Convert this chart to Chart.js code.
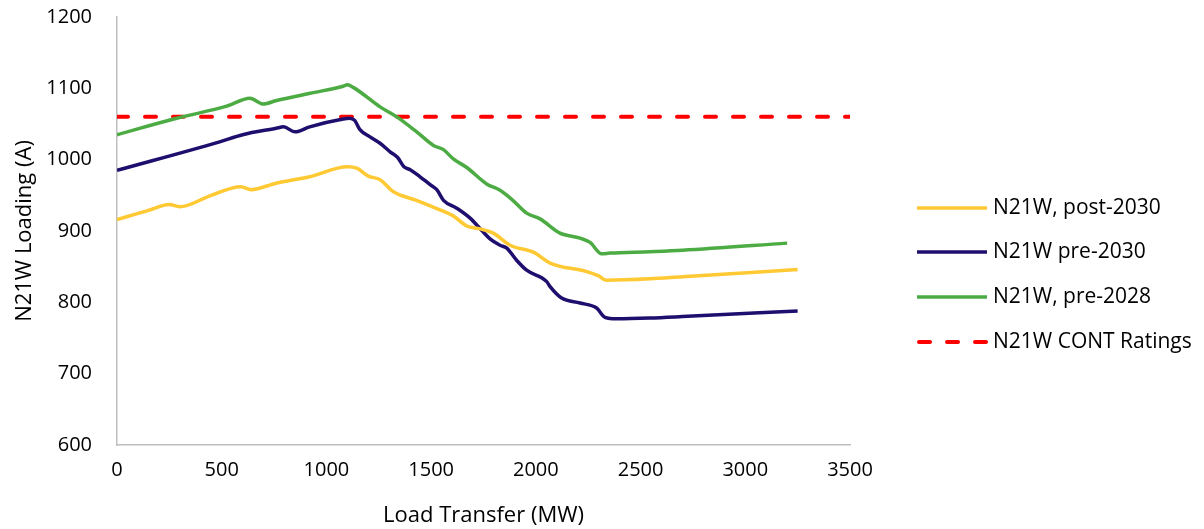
<!DOCTYPE html>
<html>
<head>
<meta charset="utf-8">
<script src="https://cdn.jsdelivr.net/npm/chart.js@4"></script>
<style>
  html, body { margin: 0; padding: 0; background: #fff; }
  #wrap { width: 1204px; height: 529px; position: relative; }
</style>
</head>
<body>
<div id="wrap"><canvas id="c" width="1204" height="529"></canvas></div>
<script>
// ---- data ----
const xTicks = [0, 500, 1000, 1500, 2000, 2500, 3000, 3500];
const yTicks = [600, 700, 800, 900, 1000, 1100, 1200];

const post2030X = [0, 150, 250, 300, 450, 590, 640, 760, 920, 1100, 1145, 1200, 1256, 1320, 1430, 1530, 1606, 1670, 1733, 1797, 1877, 1990, 2068, 2243, 2300, 2335, 2545, 2700, 3250];
const post2030Y = [916, 929, 937, 934, 950, 962, 958, 967, 976, 990, 988, 977, 972, 955, 943, 931, 921, 907, 903, 897, 880, 870, 855, 843, 837, 831, 833, 836, 846];

const pre2030X = [0, 490, 600, 760, 795, 850, 920, 1080, 1110, 1135, 1160, 1208, 1256, 1304, 1340, 1370, 1400, 1447, 1495, 1527, 1559, 1622, 1686, 1741, 1781, 1829, 1861, 1908, 1956, 2052, 2068, 2123, 2211, 2290, 2330, 2386, 2545, 2700, 3250];
const pre2030Y = [985, 1025, 1035, 1044, 1046, 1039, 1046, 1057, 1058, 1055, 1042, 1032, 1023, 1011, 1003, 990, 986, 976, 965, 958, 943, 932, 918, 901, 889, 880, 876, 859, 845, 829, 822, 806, 799, 792, 779, 777, 778, 780, 788];

const pre2028X = [0, 285, 524, 635, 699, 762, 922, 1081, 1100, 1130, 1256, 1336, 1431, 1511, 1559, 1606, 1670, 1765, 1829, 1890, 1956, 2020, 2115, 2211, 2259, 2314, 2354, 2545, 2700, 3200];
const pre2028Y = [1035, 1058, 1075, 1086, 1078, 1083, 1093, 1103, 1105, 1101, 1074, 1060, 1039, 1020, 1014, 1001, 989, 966, 957, 943, 925, 917, 897, 890, 884, 868, 869, 871, 873, 883];

const ratingX = [0, 3500];
const ratingY = [1060, 1060];

const labels = ['N21W, post-2030', 'N21W pre-2030', 'N21W, pre-2028', 'N21W CONT Ratings'];
// ---------------

function pts(xs, ys) { return xs.map((x, i) => ({ x: x, y: ys[i] })); }

const FONT = "'Open Sans', 'Noto Sans', sans-serif";

const legendPlugin = {
  id: 'customLegend',
  afterDraw(chart) {
    const ctx = chart.ctx;
    const rows = [208, 252, 297, 342];
    ctx.save();
    chart.data.datasets.forEach((ds, i) => {
      const y = rows[i];
      ctx.beginPath();
      ctx.strokeStyle = ds.borderColor;
      ctx.lineWidth = ds.borderWidth;
      ctx.lineCap = ds.borderDash ? 'round' : 'butt';
      ctx.setLineDash(ds.borderDash || []);
      ctx.moveTo(ds.borderDash ? 919 : 917, y);
      ctx.lineTo(987, y);
      ctx.stroke();
      ctx.setLineDash([]);
      ctx.fillStyle = '#000';
      ctx.font = "21px " + FONT;
      ctx.textAlign = 'left';
      ctx.textBaseline = 'middle';
      ctx.fillText(ds.label, 993, y);
    });
    ctx.restore();
  }
};

new Chart(document.getElementById('c'), {
  type: 'scatter',
  data: {
    datasets: [
      { label: labels[0], data: pts(post2030X, post2030Y), showLine: true, borderColor: '#FFC933', borderWidth: 3.5, pointRadius: 0, cubicInterpolationMode: 'monotone' },
      { label: labels[1], data: pts(pre2030X, pre2030Y), showLine: true, borderColor: '#1F0E6E', borderWidth: 3.5, pointRadius: 0, cubicInterpolationMode: 'monotone' },
      { label: labels[2], data: pts(pre2028X, pre2028Y), showLine: true, borderColor: '#4CAC43', borderWidth: 3.5, pointRadius: 0, cubicInterpolationMode: 'monotone' },
      { label: labels[3], data: pts(ratingX, ratingY), showLine: true, borderColor: '#FF0000', borderWidth: 4, pointRadius: 0, borderDash: [11, 17], borderCapStyle: 'round' }
    ]
  },
  options: {
    responsive: false,
    animation: false,
    layout: { padding: { top: 17, right: 354, left: 0, bottom: 0 } },
    plugins: { legend: { display: false }, tooltip: { enabled: false } },
    scales: {
      x: {
        type: 'linear', min: 0, max: 3500,
        afterBuildTicks: (s) => { s.ticks = xTicks.map(v => ({ value: v })); },
        afterFit: (s) => { s.height = 84; s.paddingLeft = 0; s.paddingRight = 0; },
        grid: { display: false, drawTicks: false, tickLength: 0 },
        border: { display: true, color: '#BFBFBF', width: 1.5 },
        ticks: { color: '#000', font: { family: FONT, size: 20 }, padding: 13, maxRotation: 0, autoSkip: false, callback: (v) => String(v) },
        title: { display: true, text: 'Load Transfer (MW)', color: '#000', font: { family: FONT, size: 22 }, padding: { top: 0, bottom: 0 } }
      },
      y: {
        type: 'linear', min: 600, max: 1200,
        afterBuildTicks: (s) => { s.ticks = yTicks.map(v => ({ value: v })); },
        afterFit: (s) => { s.width = 117; s.paddingTop = 0; s.paddingBottom = 0; },
        grid: { display: false, drawTicks: false, tickLength: 0 },
        border: { display: true, color: '#BFBFBF', width: 1.5 },
        ticks: { color: '#000', font: { family: FONT, size: 20 }, padding: 25, autoSkip: false, callback: (v) => String(v) },
        title: { display: true, text: 'N21W Loading (A)', color: '#000', font: { family: FONT, size: 22 }, padding: { top: 12, bottom: 0 } }
      }
    }
  },
  plugins: [legendPlugin]
});
</script>
</body>
</html>
